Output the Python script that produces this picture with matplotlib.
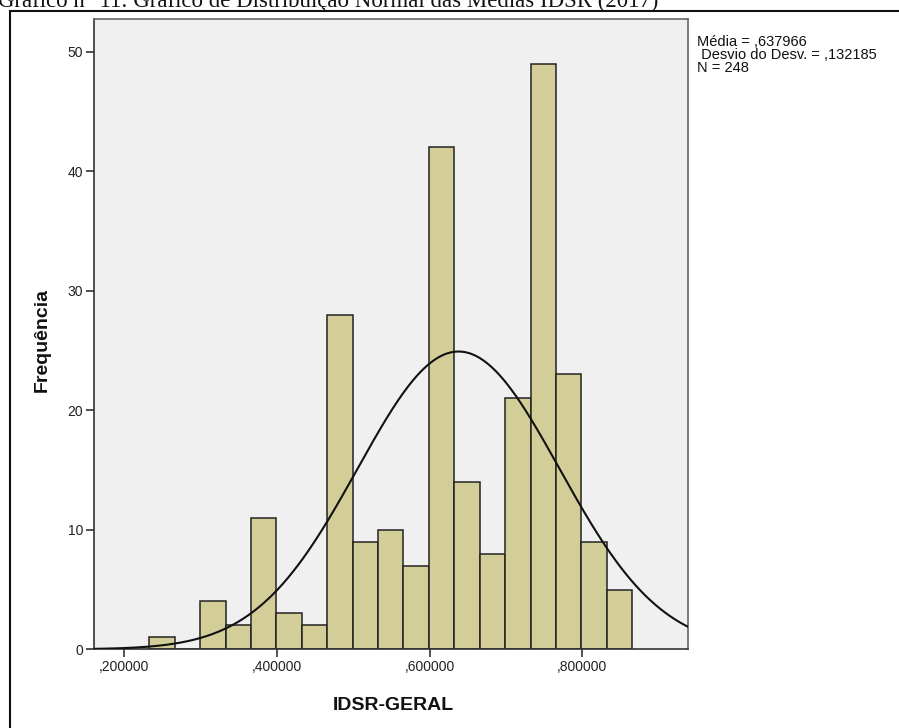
import numpy as np
import matplotlib
matplotlib.use("Agg")
import matplotlib.pyplot as plt
from matplotlib.patches import Rectangle

# Data
counts = [1, 0, 4, 2, 11, 3, 2, 28, 9, 10, 7, 42, 14, 8, 21, 49, 23, 9, 5]
bin_start = 0.2331
bin_width = 0.03328
mean = 0.637966
std = 0.132185
n_total = 248
xticks = [0.2, 0.4, 0.6, 0.8]
xtick_labels = [",200000", ",400000", ",600000", ",800000"]
yticks = [0, 10, 20, 30, 40, 50]

W, H = 899, 728
fig = plt.figure(figsize=(W / 100, H / 100), dpi=100)

def fx(px):
    return px / W

def fy(py):
    return 1 - py / H

# Axes placement in pixels
left, right, top, bottom = 94.3, 687.7, 19.3, 649.3
ax = fig.add_axes([fx(left), fy(bottom), fx(right - left), (bottom - top) / H])
ax.set_facecolor("#F0F0F0")

edges = bin_start + bin_width * np.arange(len(counts) + 1)
ax.bar(edges[:-1], counts, width=bin_width, align="edge",
       color="#D3CE97", edgecolor="#222222", linewidth=1.1, zorder=2)

xs = np.linspace(0.15, 0.95, 500)
ys = n_total * bin_width / (std * np.sqrt(2 * np.pi)) * np.exp(-0.5 * ((xs - mean) / std) ** 2)
ax.plot(xs, ys, color="#111111", linewidth=1.5, zorder=3)

ax.set_xlim(0.1611, 0.938)
ax.set_ylim(0, 52.7)
ax.set_xticks(xticks)
ax.set_xticklabels(xtick_labels)
ax.set_yticks(yticks)
ax.tick_params(axis="both", direction="out", length=6, width=1.2, color="#333333",
               labelsize=10, labelcolor="#222222", pad=2)
for lab in ax.get_xticklabels() + ax.get_yticklabels():
    lab.set_fontfamily("Liberation Sans")
for s in ax.spines.values():
    s.set_color("#666666")
    s.set_linewidth(1.2)
ax.spines["left"].set_color("#333333")
ax.spines["bottom"].set_color("#333333")

fig.text(fx(42), fy(340), "Frequência", rotation=90, ha="center", va="center",
         fontsize=14, fontweight="bold", family="Liberation Sans", color="#111111")
fig.text(fx(393), fy(705), "IDSR-GERAL", ha="center", va="center",
         fontsize=14, fontweight="bold", family="Liberation Sans", color="#111111")

stats = "Média = ,637966\n Desvio do Desv. = ,132185\nN = 248"
fig.text(fx(697), fy(35), stats, ha="left", va="top", fontsize=10.5,
         family="Liberation Sans", color="#111111", linespacing=0.9)

# Cut-off caption at top (as in the reference)
fig.text(fx(-2), fy(7), "Gráfico n° 11: Gráfico de Distribuição Normal das Médias IDSR (2017)",
         ha="left", va="baseline", fontsize=16.5, family="Liberation Serif", color="#111111")

# Outer border
fig.patches.append(Rectangle((fx(9.5), fy(740)), fx(905), (740 - 11) / H,
                             transform=fig.transFigure, fill=False,
                             edgecolor="#111111", linewidth=1.5))

fig.savefig("out.png", dpi=100)
